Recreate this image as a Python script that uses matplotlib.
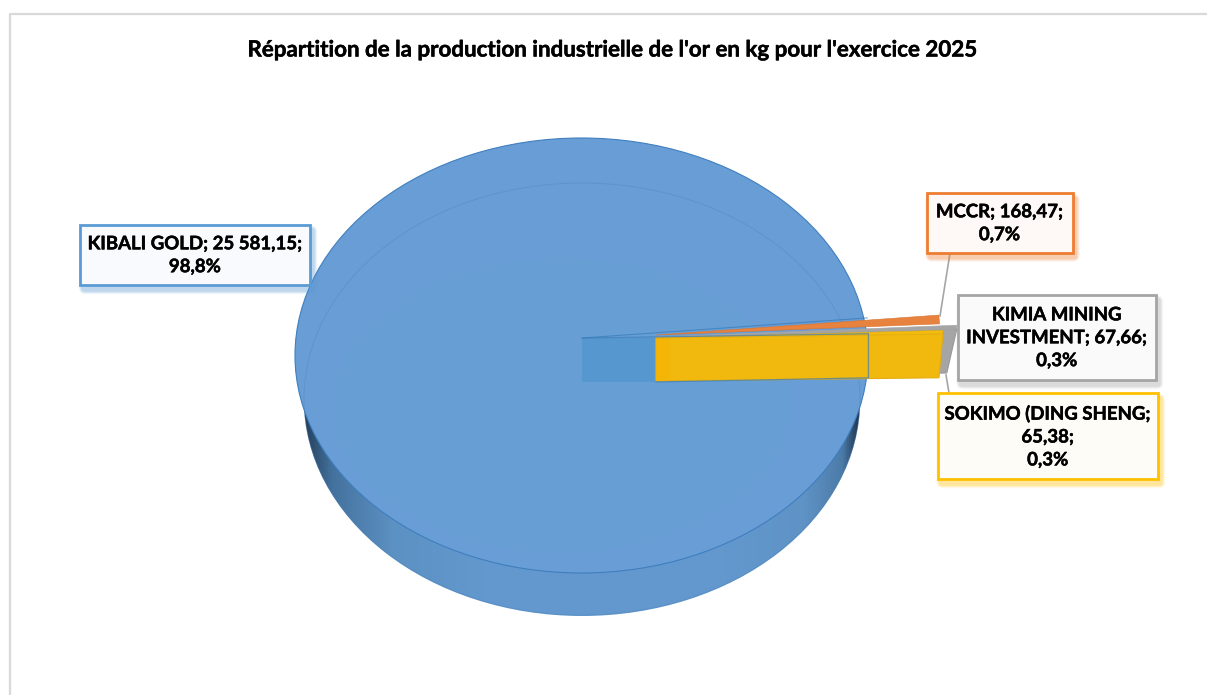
import numpy as np
import matplotlib
matplotlib.use("Agg")
import matplotlib.pyplot as plt
import matplotlib.patheffects as pe
from matplotlib.colors import LinearSegmentedColormap
from matplotlib.patches import Polygon, Ellipse, Rectangle, FancyBboxPatch
from matplotlib.lines import Line2D

plt.rcParams['font.family'] = ['Lato', 'DejaVu Sans']

TITLE = "Répartition de la production industrielle de l'or en kg pour l'exercice 2025"
names = ["MCCR", "KIMIA MINING INVESTMENT", "SOKIMO (DING SHENG", "KIBALI GOLD"]
values = [168.47, 67.66, 65.38, 25581.15]
label_texts = ["MCCR; 168,47;\n0,7%",
               "KIMIA MINING\nINVESTMENT; 67,66;\n0,3%",
               "SOKIMO (DING SHENG;\n65,38;\n0,3%",
               "KIBALI GOLD; 25 581,15;\n98,8%"]
colors = ["#ED7D31", "#A5A5A5", "#FFC000", "#5B9BD5"]
fills = ["#FEF9F6", "#FAFAFA", "#FDFCF7", "#F8FAFD"]
# label boxes: left, top, right, bottom in pixels
boxes = [(926.5, 193, 1072.5, 252.5), (957.5, 294.5, 1156, 380), (937.5, 393, 1158, 479), (80, 224.5, 310, 285)]

W, H = 1207, 695
fig = plt.figure(figsize=(W / 100, H / 100), dpi=100, facecolor="white")
ax = fig.add_axes([0, 0, 1, 1])
ax.axis("off")

# frame
ax.add_line(Line2D([9.5, 9.5, W], [H, 13.5, 13.5], color="#D9D9D9", lw=1.6, zorder=0))

# pie geometry
CX, CY, RX, RY = 581.5, 355.5, 286.5, 217.5
BCX, BCY, BRX, BRY = 582, 400, 278, 216
APEX = (582, 338)
SL_X = 656
SL_Y = [335, 337, 338]
DEPTH = 44
START = 5.3
radii = [284, 301, 287]

fracs = np.array(values) / sum(values)
edges = START - np.concatenate([[0], np.cumsum(fracs[:3] * 360)])


def rim(apex, r, angle, ry_ratio=RY / RX):
    a = np.deg2rad(angle)
    return (apex[0] + r * np.cos(a), apex[1] - r * ry_ratio * np.sin(a))


# side wall (gradient clipped to lower ellipse)
cmap = LinearSegmentedColormap.from_list("rim", [
    (0.00, "#25405C"), (0.05, "#44729E"), (0.16, "#5C91C3"), (0.32, "#6398CE"),
    (0.76, "#6398CE"), (0.90, "#5F93C6"), (0.97, "#4C7BA8"), (1.00, "#1E3550")])
grad = np.linspace(0, 1, 512).reshape(1, -1)
im = ax.imshow(grad, extent=(BCX - BRX, BCX + BRX, BCY + BRY, BCY - BRY), cmap=cmap, aspect="auto", zorder=1)
clip = Ellipse((BCX, BCY), 2 * BRX, 2 * BRY, transform=ax.transData, fc="none", ec="none")
ax.add_patch(clip)
im.set_clip_path(clip)

# top face
ax.add_patch(Ellipse((CX, CY), 2 * RX, 2 * RY, fc="#699DD5", ec="#3F7FBF", lw=0.8, zorder=2))
# soft centre tint
ax.add_patch(Ellipse((CX - 20, CY + 50), 2 * RX * 0.8, 2 * RY * 0.68, fc="#66A2D6", ec="none", alpha=0.6, zorder=2))
# lower ellipse seen through
ax.add_patch(Ellipse((BCX, BCY - 1), 2 * BRX, 2 * BRY, fc="none", ec="#4F86BC", lw=0.7, alpha=0.4, zorder=3))

# exploded slices, back to front
for i in range(3):
    a0, a1 = edges[i], edges[i + 1]
    r = radii[i]
    sl_apex = (SL_X, SL_Y[i])
    p0, p1 = rim(sl_apex, r, a0), rim(sl_apex, r, a1)
    if i > 0:  # front cut face
        ax.add_patch(Polygon([sl_apex, p1, (p1[0] - 10 if i == 1 else p1[0] - 4, p1[1] + DEPTH),
                              (SL_X, SL_Y[i] + DEPTH - 1)], closed=True,
                             fc="#A5A5A5" if i == 1 else "#F1B80E",
                             ec="#999999" if i == 1 else "#E3AE10", lw=0.8, zorder=4 + i))
    ax.add_patch(Polygon([sl_apex, p0, p1], closed=True,
                         fc={0: "#E8833F", 1: "#A5A5A5", 2: "#F3BC0C"}[i],
                         ec={0: "#D9742F", 1: "#A5A5A5", 2: "#E3AE10"}[i], lw=0.4, zorder=4 + i))

# slightly more saturated left end of the gold face
ax.add_patch(Rectangle((SL_X, SL_Y[2] + 1), 14, DEPTH - 2, fc="#F8B400", ec="none", alpha=0.55, zorder=7))

# notch and cut face of the main slice
p0 = rim(APEX, RX, edges[0])
p1 = rim(APEX, RX, edges[3])
ax.add_patch(Polygon([APEX, (APEX[0], APEX[1] + DEPTH), (SL_X, APEX[1] + DEPTH), (SL_X, APEX[1])],
                     closed=True, fc="#5597CF", ec="none", alpha=0.9, zorder=3))
ax.add_line(Line2D([APEX[0], p0[0]], [APEX[1], p0[1]], color="#2E75B6", lw=0.8, alpha=0.6, zorder=8))
ax.add_line(Line2D([APEX[0], p1[0], p1[0], SL_X],
                   [APEX[1], p1[1], p1[1] + DEPTH, APEX[1] + DEPTH],
                   color="#3C7DB8", lw=0.9, alpha=0.7, zorder=8))

# leaders
ax.add_line(Line2D([950, 940], [253, 316], color="#A6A6A6", lw=1.2, zorder=3))
ax.add_line(Line2D([946, 949], [375, 393], color="#A6A6A6", lw=1.2, zorder=3))

# labels
stroke = [pe.withStroke(linewidth=0.35, foreground="black")]
for txt, col, fc, (l, t, r, b) in zip(label_texts, colors, fills, boxes):
    for k, al in zip((7, 5, 3), (0.10, 0.14, 0.20)):
        ax.add_patch(FancyBboxPatch((l + 3, t + 5), r - l, b - t, boxstyle=f"round,pad={k * 0.6},rounding_size={k}",
                                    fc=col, ec="none", alpha=al, zorder=9))
    ax.add_patch(Rectangle((l, t), r - l, b - t, fc=fc, ec=col, lw=2.0, zorder=10))
    ax.text((l + r) / 2, (t + b) / 2 + 0.5, txt, ha="center", va="center", fontsize=13.4, fontweight="bold",
            color="black", linespacing=1.42, zorder=11, path_effects=stroke)

ax.text(613, 50, TITLE, ha="center", va="center", fontsize=16.1, fontweight="bold", color="black", zorder=11,
        path_effects=stroke)

ax.set_xlim(0, W)
ax.set_ylim(H, 0)
fig.savefig("out.png", dpi=100)
